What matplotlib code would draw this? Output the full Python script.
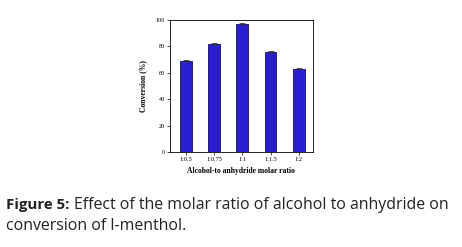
import matplotlib
matplotlib.use("Agg")
import matplotlib.pyplot as plt

ratios = ["1:0.5", "1:0.75", "1:1", "1:1.5", "1:2"]
conversion = [69.0, 81.5, 97.0, 75.5, 63.0]
errors = [0.6, 0.8, 0.8, 0.7, 0.4]
yticks = [0, 20, 40, 60, 80, 100]

fig = plt.figure(figsize=(4.62, 2.47), dpi=100)
ax = fig.add_axes([0.368, 0.385, 0.309, 0.534])
x = range(len(ratios))
ax.bar(x, conversion, width=0.42, color="#2a1fd0", edgecolor="#101060", linewidth=0.6,
       yerr=errors, capsize=2, error_kw=dict(ecolor="#333333", elinewidth=0.6, capthick=0.6))
ax.set_xlim(-0.57, 4.5)
ax.set_ylim(0, 100)
ax.set_yticks(yticks)
ax.set_xticks(list(x))
ax.set_xticklabels(ratios)
for lab in ax.get_xticklabels() + ax.get_yticklabels():
    lab.set_family("Liberation Serif"); lab.set_fontsize(4.5)
ax.tick_params(length=2, width=0.5, pad=1.5)
for s in ax.spines.values():
    s.set_linewidth(0.6)
ax.set_ylabel("Conversion (%)", family="Liberation Serif", fontsize=5.5, weight="bold", labelpad=6)
ax.set_xlabel("Alcohol-to anhydride molar ratio", family="Liberation Serif", fontsize=5.5,
              weight="bold", labelpad=4)

# caption: bold "Figure 5:" then the plain text right after it
fs = 11.4
fig.canvas.draw()
r = fig.canvas.get_renderer()
y1, y2 = 1 - 209 / 247, 1 - 229.5 / 247
t1 = fig.text(6 / 462, y1, "Figure 5:", family="Open Sans", weight="bold",
              fontsize=10.8, color="#222222", va="baseline")
bb = t1.get_window_extent(renderer=r)
fig.text((bb.x1 + 4) / 462, y1, "Effect of the molar ratio of alcohol to anhydride on",
         family="Open Sans", fontsize=fs, color="#222222", va="baseline")
fig.text(6 / 462, y2, "conversion of l-menthol.", family="Open Sans", fontsize=fs,
         color="#222222", va="baseline")

fig.savefig("out.png", dpi=100)
